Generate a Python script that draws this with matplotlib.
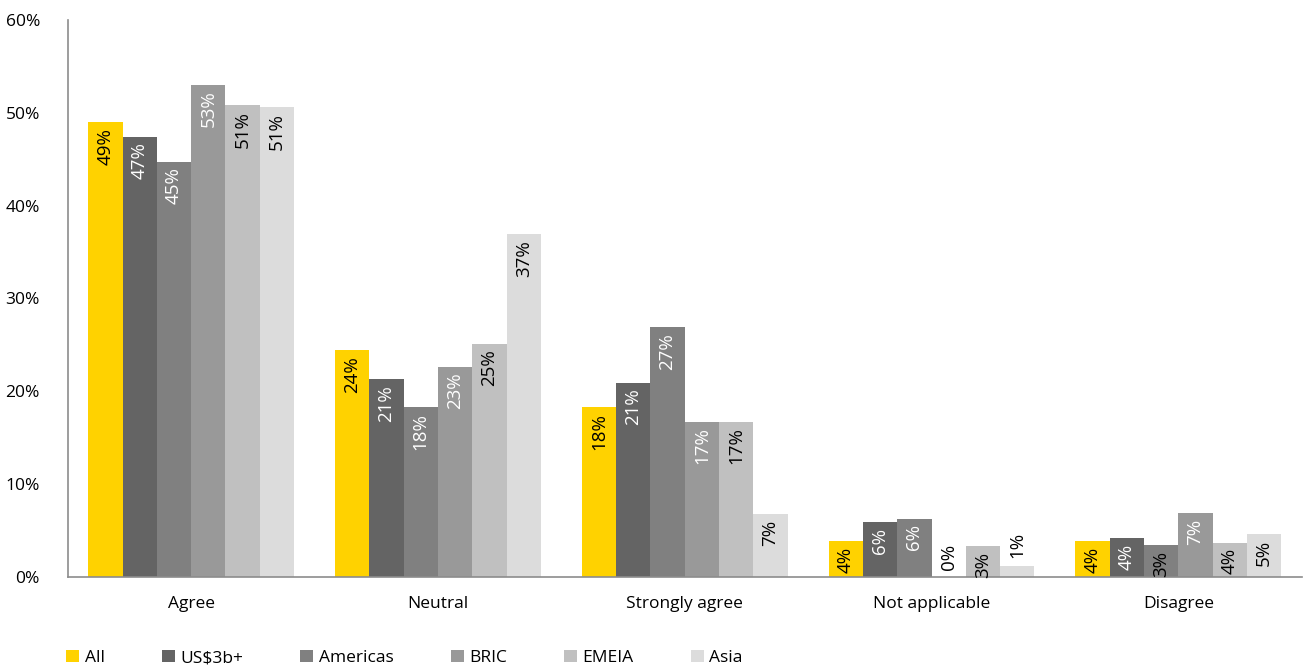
import matplotlib.pyplot as plt
import numpy as np

plt.rcParams['font.family'] = ['Open Sans', 'DejaVu Sans']

# survey answers and the share of each group giving them (%)
categories = ["Agree", "Neutral", "Strongly agree", "Not applicable", "Disagree"]
groups = ["All", "US$3b+", "Americas", "BRIC", "EMEIA", "Asia"]
all_resp = [49.0, 24.4, 18.3, 3.9, 3.9]
us3b = [47.4, 21.3, 20.9, 5.9, 4.2]
americas = [44.7, 18.3, 26.9, 6.3, 3.4]
bric = [53.0, 22.6, 16.7, 0.0, 6.9]
emeia = [50.8, 25.1, 16.7, 3.3, 3.7]
asia = [50.6, 36.9, 6.8, 1.2, 4.6]

series = [all_resp, us3b, americas, bric, emeia, asia]
colors = ["#FFD200", "#646464", "#808080", "#999999", "#C0C0C0", "#DCDCDC"]
label_colors = ["black", "white", "white", "white", "black", "black"]

fig = plt.figure(figsize=(13.03, 6.65), dpi=100)
ax = fig.add_axes([0.052, 0.1323, 0.947, 0.8377])

x = np.arange(len(categories))
w = 0.139
for i, (vals, col, lc) in enumerate(zip(series, colors, label_colors)):
    pos = x + (i - 2.5) * w
    ax.bar(pos, vals, width=w, color=col, label=groups[i], zorder=2)
    for px, v in zip(pos, vals):
        txt = f"{v:.0f}%"
        if v < 2:
            ax.text(px, v + 0.8, txt, rotation=90, ha="center", va="bottom",
                    fontsize=13.5, color="black")
        else:
            ax.text(px, v - 0.6, txt, rotation=90, ha="center", va="top",
                    fontsize=13.5, color=lc if v >= 4 else "black")

ax.set_xlim(-0.5, 4.5)
ax.set_ylim(0, 60)
ax.set_yticks(range(0, 61, 10))
ax.set_yticklabels([f"{t}%" for t in range(0, 61, 10)], fontsize=12.5)
ax.set_xticks(x)
ax.set_xticklabels(categories, fontsize=12.5)
ax.tick_params(axis="both", length=0)
ax.tick_params(axis="y", pad=20)
ax.tick_params(axis="x", pad=14)
for s in ["top", "right"]:
    ax.spines[s].set_visible(False)
ax.spines["left"].set_color("#8C8C8C")
ax.spines["bottom"].set_color("#8C8C8C")
ax.spines["left"].set_linewidth(1.2)
ax.spines["bottom"].set_linewidth(1.2)

fig.legend(loc="lower left", bbox_to_anchor=(0.039, -0.025), ncol=6, frameon=False,
           fontsize=12.5, handlelength=0.75, handleheight=0.75, handletextpad=0.3,
           columnspacing=3.3)

fig.savefig("out.png", dpi=100)
